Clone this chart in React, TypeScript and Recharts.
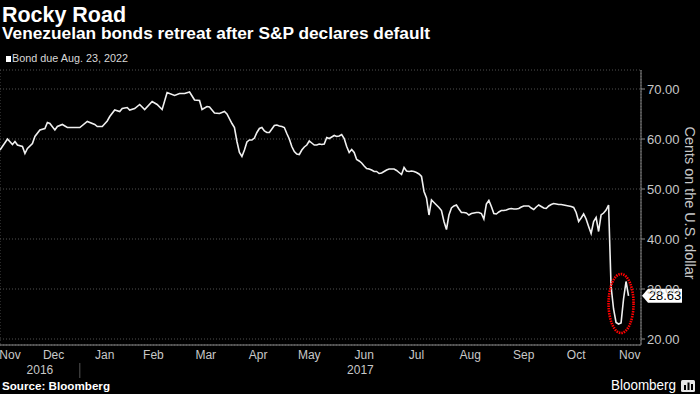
import React from "react";
import { LineChart, Line, XAxis, YAxis, CartesianGrid, ReferenceDot } from "recharts";

// ---- data ----
const dates = [
  "2016-11-15","2016-11-18","2016-11-22","2016-11-23","2016-11-25","2016-11-29","2016-11-30",
  "2016-12-01","2016-12-05","2016-12-06","2016-12-08","2016-12-12","2016-12-13","2016-12-14","2016-12-16","2016-12-19","2016-12-21","2016-12-23","2016-12-29",
  "2017-01-03","2017-01-06","2017-01-11","2017-01-12","2017-01-17","2017-01-19","2017-01-20","2017-01-24","2017-01-26","2017-01-27","2017-01-31",
  "2017-02-01","2017-02-03","2017-02-07","2017-02-09","2017-02-14","2017-02-16","2017-02-21","2017-02-23","2017-02-28",
  "2017-03-02","2017-03-06","2017-03-08","2017-03-10","2017-03-14","2017-03-15","2017-03-17","2017-03-20","2017-03-22","2017-03-24","2017-03-28","2017-03-29","2017-03-31",
  "2017-04-03","2017-04-04","2017-04-05","2017-04-06","2017-04-07","2017-04-10","2017-04-11","2017-04-12","2017-04-13","2017-04-17","2017-04-18","2017-04-19","2017-04-20","2017-04-21","2017-04-24","2017-04-25","2017-04-26","2017-04-27","2017-04-28",
  "2017-05-01","2017-05-02","2017-05-03","2017-05-04","2017-05-05","2017-05-08","2017-05-09","2017-05-10","2017-05-11","2017-05-12","2017-05-15","2017-05-16","2017-05-17","2017-05-18","2017-05-19","2017-05-22","2017-05-23","2017-05-24","2017-05-25","2017-05-26","2017-05-30","2017-05-31",
  "2017-06-01","2017-06-02","2017-06-05","2017-06-06","2017-06-07","2017-06-08","2017-06-09","2017-06-12","2017-06-13","2017-06-14","2017-06-15","2017-06-16","2017-06-19","2017-06-20","2017-06-21","2017-06-22","2017-06-23","2017-06-26","2017-06-27","2017-06-28","2017-06-29","2017-06-30",
  "2017-07-03","2017-07-05","2017-07-06","2017-07-07","2017-07-10","2017-07-11","2017-07-12","2017-07-13","2017-07-14","2017-07-17","2017-07-18","2017-07-19","2017-07-20","2017-07-21","2017-07-24","2017-07-25","2017-07-26","2017-07-27","2017-07-28","2017-07-31",
  "2017-08-01","2017-08-02","2017-08-03","2017-08-04","2017-08-07","2017-08-08","2017-08-09","2017-08-10","2017-08-11","2017-08-14","2017-08-15","2017-08-16","2017-08-17","2017-08-18","2017-08-21","2017-08-22","2017-08-23","2017-08-24","2017-08-25","2017-08-28","2017-08-29","2017-08-30","2017-08-31",
  "2017-09-01","2017-09-05","2017-09-06","2017-09-07","2017-09-08","2017-09-11","2017-09-12","2017-09-13","2017-09-14","2017-09-15","2017-09-18","2017-09-19","2017-09-20","2017-09-21","2017-09-22","2017-09-25","2017-09-26","2017-09-27","2017-09-28","2017-09-29",
  "2017-10-02","2017-10-03","2017-10-04","2017-10-05","2017-10-06","2017-10-09","2017-10-10","2017-10-11","2017-10-12","2017-10-13","2017-10-16","2017-10-17","2017-10-18","2017-10-19","2017-10-20","2017-10-23","2017-10-24","2017-10-25","2017-10-26","2017-10-27","2017-10-30","2017-10-31",
  "2017-11-01","2017-11-02","2017-11-03","2017-11-06","2017-11-07","2017-11-08","2017-11-09","2017-11-10","2017-11-13","2017-11-14","2017-11-15",
];

const prices = [
  57.8,60.0,58.9,59.5,58.8,58.5,57.1,
  58.1,59.1,60.5,61.8,62.1,63.3,63.1,61.8,62.5,62.9,62.3,62.3,
  62.3,63.5,62.9,62.5,62.5,63.6,64.5,65.8,65.5,66.1,66.3,
  65.8,66.1,66.9,65.9,67.5,66.9,65.9,69.3,68.7,
  69.1,69.1,69.4,67.8,67.7,65.9,66.5,66.4,65.2,65.1,65.5,65.0,63.1,
  62.3,59.5,57.3,56.5,57.8,59.4,59.8,59.8,60.2,61.3,62.1,62.3,61.6,61.3,61.3,62.0,62.7,62.8,62.6,
  62.5,62.3,61.1,60.0,58.5,57.5,57.0,56.9,57.8,58.4,58.8,59.6,59.2,58.8,58.8,59.0,58.9,59.0,60.3,60.1,60.4,60.7,
  60.5,60.6,60.9,60.1,58.5,57.3,57.9,57.3,55.9,55.6,55.2,54.6,54.1,54.0,53.8,53.5,53.5,53.1,53.2,53.5,53.8,54.0,
  54.0,54.0,53.7,53.3,52.9,54.3,53.6,53.5,53.6,53.5,53.3,53.0,52.5,49.5,48.2,44.8,47.8,47.3,46.8,46.3,
  45.7,43.5,41.9,44.8,46.2,46.6,46.8,46.0,45.3,45.3,45.2,44.8,45.1,45.2,45.3,45.3,45.1,44.0,47.0,47.7,46.5,45.1,45.0,
  45.4,45.7,45.7,45.8,46.0,46.1,46.0,46.0,46.1,46.4,46.6,46.6,46.6,46.2,45.9,46.4,46.8,46.5,46.2,46.1,
  46.6,46.9,47.1,47.0,46.9,46.9,46.8,46.7,46.6,46.5,46.3,45.3,43.5,44.2,45.0,44.0,42.5,41.1,43.5,44.3,41.5,44.8,
  45.2,45.8,46.8,30.5,26.0,23.3,23.0,23.2,28.0,31.5,28.63,
];

const HOLIDAYS = [
  "2016-11-24","2016-12-26","2017-01-02","2017-01-16","2017-02-20","2017-04-14",
  "2017-05-29","2017-07-04","2017-09-04","2017-11-23",
];

const monthNames = ["Nov","Dec","Jan","Feb","Mar","Apr","May","Jun","Jul","Aug","Sep","Oct","Nov"];
const monthFirstDays = [
  "2016-11-01","2016-12-01","2017-01-01","2017-02-01","2017-03-01","2017-04-01","2017-05-01",
  "2017-06-01","2017-07-01","2017-08-01","2017-09-01","2017-10-01","2017-11-01","2017-12-01",
];
const yearNames = ["2016", "2017"];
const yearBoundary = "2017-01-01";
const axisEndDate = "2017-11-22";
const yTicks = [20, 30, 40, 50, 60, 70];
const yDomain = [18.8, 73.8];
const lastPriceLabel = "28.63";
const highlightDate = "2017-11-10";
const highlightValue = 27.1;

// ---- trading-session index helpers ----
const DAY = 86400000;
const holidaySet = new Set(HOLIDAYS);
const toUTC = (s: string) => {
  const [y, m, d] = s.split("-").map(Number);
  return Date.UTC(y, m - 1, d);
};
const isSession = (t: number) => {
  const d = new Date(t);
  const wd = d.getUTCDay();
  return wd !== 0 && wd !== 6 && !holidaySet.has(d.toISOString().slice(0, 10));
};
const START = toUTC(dates[0]);
function sessionIndex(iso: string): number {
  const b = toUTC(iso);
  let n = 0;
  if (b >= START) {
    for (let t = START + DAY; t <= b; t += DAY) if (isSession(t)) n++;
  } else {
    for (let t = b; t < START; t += DAY) if (isSession(t)) n--;
  }
  return n;
}
function firstSessionIndex(iso: string): number {
  const b = toUTC(iso);
  if (b < START || isSession(b)) return sessionIndex(iso);
  return sessionIndex(iso) + 1;
}

const data = dates.map((d, i) => ({ idx: sessionIndex(d), price: prices[i] }));
const xMax = sessionIndex(axisEndDate);
const monthStartIdx = monthFirstDays.map(firstSessionIndex);
const gridTicks = monthStartIdx.slice(1, monthStartIdx.length - 1);
const monthMids = monthNames.map((_, i) => (monthStartIdx[i] + monthStartIdx[i + 1]) / 2);
const yearBoundaryIdx = firstSessionIndex(yearBoundary);
const yearMids = [(0 + yearBoundaryIdx) / 2, (yearBoundaryIdx + xMax) / 2];
const yearTicks = [yearMids[0], yearBoundaryIdx, yearMids[1]];
const lastPrice = prices[prices.length - 1];
const highlightIdx = sessionIndex(highlightDate);

const FONT = "'Liberation Sans', Arial, sans-serif";

const MonthTick = (props: any) => {
  const { x, y, index } = props;
  const px = Math.max(x, 10);
  return (
    <text x={px} y={y + 13} textAnchor="middle" fill="#c8c8c8" fontSize={12} fontFamily={FONT}>
      {monthNames[index]}
    </text>
  );
};

const YearTick = (props: any) => {
  const { x, y, payload } = props;
  if (payload.value === yearBoundaryIdx) {
    return <line x1={x} x2={x} y1={y + 2} y2={y + 17} stroke="#555" strokeWidth={1} />;
  }
  const label = payload.value === yearMids[0] ? yearNames[0] : yearNames[1];
  return (
    <text x={x} y={y + 13} textAnchor="middle" fill="#c8c8c8" fontSize={12} fontFamily={FONT}>
      {label}
    </text>
  );
};

const PriceTag = (props: any) => {
  const { cx, cy } = props;
  if (cx == null || cy == null) return null;
  const x0 = cx + 1;
  return (
    <g>
      <polygon
        points={`${x0},${cy} ${x0 + 6},${cy - 7} ${x0 + 40},${cy - 7} ${x0 + 40},${cy + 7} ${x0 + 6},${cy + 7}`}
        fill="#ffffff"
      />
      <text x={x0 + 23} y={cy + 4.5} textAnchor="middle" fill="#000" fontSize={13} fontFamily={FONT}>
        {lastPriceLabel}
      </text>
    </g>
  );
};

const Highlight = (props: any) => {
  const { cx, cy } = props;
  if (cx == null || cy == null) return null;
  return (
    <ellipse cx={cx} cy={cy} rx={12.5} ry={29.5} fill="none" stroke="#ff0000" strokeWidth={2.6} strokeDasharray="1.5 1" />
  );
};

export default function App() {
  return (
    <div style={{ position: "absolute", left: 0, top: 0, width: 700, height: 394, background: "#000", overflow: "hidden", fontFamily: FONT }}>
      <LineChart width={700} height={394} data={data} margin={{ top: 70, right: 0, bottom: 13, left: 0 }}>
        <CartesianGrid xAxisId="b" stroke="#505050" strokeDasharray="1 2" vertical horizontal />
        <XAxis
          xAxisId="b"
          dataKey="idx"
          type="number"
          domain={[0, xMax]}
          allowDataOverflow
          ticks={gridTicks}
          interval={0}
          height={1}
          tick={false}
          tickSize={4}
          axisLine={{ stroke: "#8a8a8a" }}
          tickLine={{ stroke: "#8a8a8a" }}
        />
        <XAxis
          xAxisId="m"
          dataKey="idx"
          type="number"
          domain={[0, xMax]}
          allowDataOverflow
          ticks={monthMids}
          interval={0}
          height={15}
          axisLine={false}
          tickLine={false}
          tickSize={0}
          tickMargin={0}
          tick={MonthTick}
        />
        <XAxis
          xAxisId="y"
          dataKey="idx"
          type="number"
          domain={[0, xMax]}
          allowDataOverflow
          ticks={yearTicks}
          interval={0}
          height={20}
          axisLine={false}
          tickLine={false}
          tickSize={0}
          tickMargin={0}
          tick={YearTick}
        />
        <YAxis
          orientation="right"
          width={59}
          domain={yDomain}
          allowDataOverflow
          ticks={yTicks}
          interval={0}
          tickFormatter={(v: number) => v.toFixed(2)}
          tick={{ fill: "#c8c8c8", fontSize: 13, fontFamily: FONT }}
          tickSize={4}
          tickMargin={2}
          axisLine={{ stroke: "#8a8a8a" }}
          tickLine={{ stroke: "#8a8a8a" }}
        />
        <Line
          xAxisId="b"
          type="linear"
          dataKey="price"
          stroke="#f0f0f0"
          strokeWidth={1.6}
          dot={false}
          isAnimationActive={false}
        />
        <ReferenceDot xAxisId="b" x={highlightIdx} y={highlightValue} ifOverflow="visible" shape={Highlight} />
        <ReferenceDot xAxisId="b" x={xMax} y={lastPrice} ifOverflow="visible" shape={PriceTag} />
      </LineChart>
      <svg width={700} height={394} style={{ position: "absolute", left: 0, top: 0, pointerEvents: "none" }}>
        <text x={2} y={22} fill="#ffffff" fontSize={22} fontWeight="bold" fontFamily={FONT} textLength={124} lengthAdjust="spacingAndGlyphs">
          Rocky Road
        </text>
        <text x={2} y={39} fill="#ffffff" fontSize={16} fontWeight="bold" fontFamily={FONT} textLength={428} lengthAdjust="spacingAndGlyphs">
          Venezuelan bonds retreat after S&amp;P declares default
        </text>
        <rect x={6} y={56} width={5} height={6} fill="#ffffff" />
        <text x={12} y={62} fill="#d8d8d8" fontSize={11} fontFamily={FONT} textLength={116} lengthAdjust="spacingAndGlyphs">
          Bond due Aug. 23, 2022
        </text>
        <text
          x={690}
          y={203}
          fill="#c8c8c8"
          fontSize={14}
          fontFamily={FONT}
          textAnchor="middle"
          dominantBaseline="central"
          transform="rotate(90 690 203)"
          textLength={153}
          lengthAdjust="spacingAndGlyphs"
        >
          Cents on the U.S. dollar
        </text>
        <text x={2} y={390} fill="#ffffff" fontSize={11} fontWeight="bold" fontFamily={FONT} textLength={108} lengthAdjust="spacingAndGlyphs">
          Source: Bloomberg
        </text>
        <text x={611} y={390} fill="#ffffff" fontSize={14} fontFamily={FONT} textLength={65} lengthAdjust="spacingAndGlyphs">
          Bloomberg
        </text>
        <rect x={681} y={380} width={14} height={12} rx={1.5} fill="#e8e8e8" />
        <rect x={684} y={385} width={2} height={5} fill="#000" />
        <rect x={687.5} y={382.5} width={2} height={7.5} fill="#000" />
        <rect x={691} y={384} width={2} height={6} fill="#000" />
      </svg>
    </div>
  );
}
